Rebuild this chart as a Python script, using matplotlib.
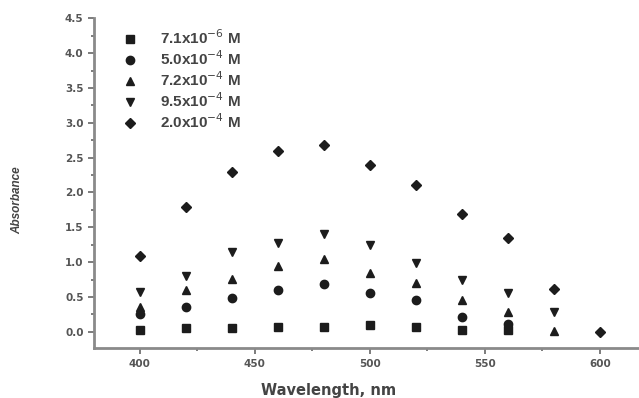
import numpy as np
import matplotlib
matplotlib.use("Agg")
import matplotlib.pyplot as plt
from matplotlib.ticker import MultipleLocator

# wavelengths (nm)
wl = [400, 420, 440, 460, 480, 500, 520, 540, 560, 580, 600]

# absorbance (None = no point)
sq = [0.03, 0.06, 0.06, 0.07, 0.07, 0.09, 0.07, 0.02, 0.03, None, None]
circ = [0.26, 0.35, 0.49, 0.60, 0.69, 0.55, 0.45, 0.21, 0.11, None, None]
up = [0.35, 0.60, 0.76, 0.95, 1.05, 0.85, 0.70, 0.45, 0.28, 0.01, None]
down = [0.57, 0.80, 1.14, 1.28, 1.40, 1.24, 0.98, 0.75, 0.55, 0.29, None]
diam = [1.09, 1.79, 2.30, 2.59, 2.68, 2.39, 2.10, 1.69, 1.35, 0.61, 0.0]

labels = ["7.1x10$^{-6}$ M", "5.0x10$^{-4}$ M", "7.2x10$^{-4}$ M",
          "9.5x10$^{-4}$ M", "2.0x10$^{-4}$ M"]
markers = ["s", "o", "^", "v", "D"]

plt.rcParams['font.family'] = ['Liberation Sans', 'DejaVu Sans']

fig = plt.figure(figsize=(6.39, 3.98), dpi=100)
ax = fig.add_axes([0.147, 0.125, 0.853, 0.829])

ink = "#1c1c1c"
for y, m, lab in zip([sq, circ, up, down, diam], markers, labels):
    x = [w for w, v in zip(wl, y) if v is not None]
    v = [v for v in y if v is not None]
    ms = 5.5 if m == "D" else 6
    ax.plot(x, v, linestyle="none", marker=m, ms=ms, color=ink, label=lab)

ax.set_xlim(380, 617)
ax.set_ylim(-0.237, 4.5)
ax.xaxis.set_major_locator(MultipleLocator(50))
ax.xaxis.set_minor_locator(MultipleLocator(25))
ax.yaxis.set_major_locator(MultipleLocator(0.5))
ax.yaxis.set_minor_locator(MultipleLocator(0.25))
ax.yaxis.set_major_formatter(matplotlib.ticker.FormatStrFormatter("%.1f"))

gray = "#8a8a8a"
for s in ["top", "right"]:
    ax.spines[s].set_visible(False)
for s in ["left", "bottom"]:
    ax.spines[s].set_color(gray)
    ax.spines[s].set_linewidth(2)
ax.tick_params(which="both", direction="out", color="#666666", width=1.2)
ax.tick_params(which="major", length=4, labelsize=7.5, labelcolor="#555555")
ax.tick_params(which="minor", length=2.5)
for t in ax.get_xticklabels() + ax.get_yticklabels():
    t.set_fontweight("bold")
    t.set_family("DejaVu Sans")

ax.set_xlabel("Wavelength, nm", fontsize=10.5, fontweight="bold", color="#444444",
              family="DejaVu Sans")
ax.xaxis.label.set_va("center")
ax.xaxis.set_label_coords(0.43, -0.128)
ax.set_ylabel("Absorbance", fontsize=8.5, fontweight="bold", style="italic", color="#444444")
ax.yaxis.set_label_coords(-0.13, 0.45)

leg = ax.legend(loc="upper left", bbox_to_anchor=(0.012, 1.01), frameon=False,
                prop={"size": 11, "weight": "bold"}, labelspacing=0.15,
                handletextpad=1.0, markerscale=1.0)
for t in leg.get_texts():
    t.set_color("#444444")

fig.savefig("out.png", dpi=100)
